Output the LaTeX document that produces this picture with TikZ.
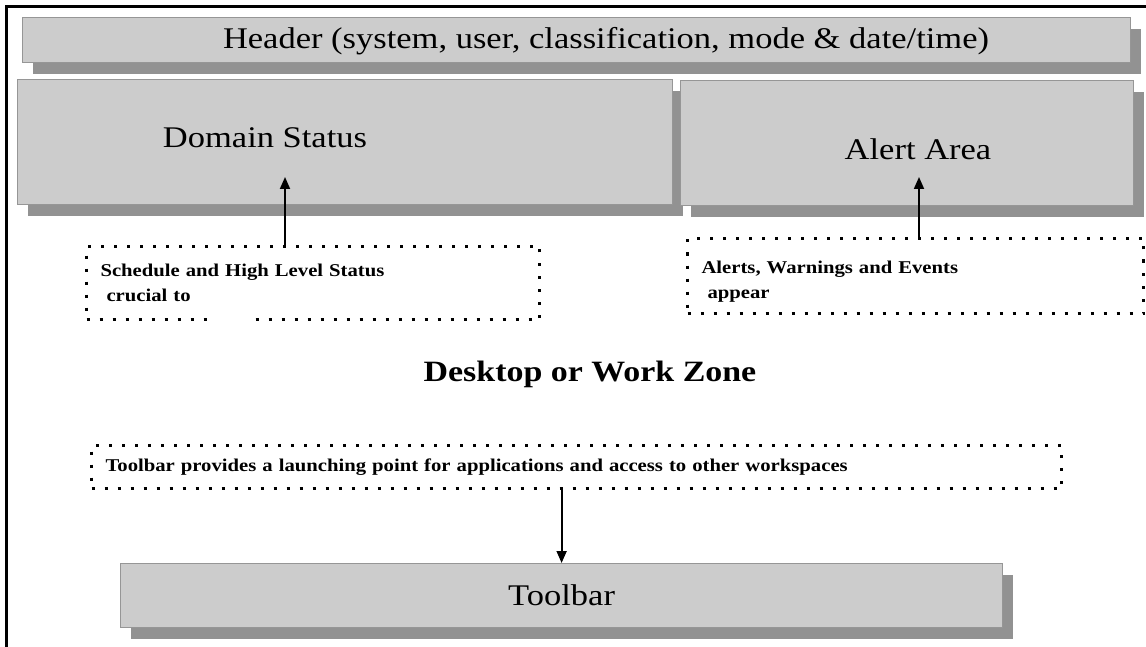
\documentclass[tikz,border=0pt]{standalone}
\usepackage{fontspec}
\setmainfont{Liberation Serif}[FakeStretch=1.15]
\usetikzlibrary{positioning, shadows, arrows.meta}
\definecolor{panelgray}{RGB}{204,204,204}
\definecolor{shadowgray}{RGB}{146,146,146}
\definecolor{edgegray}{RGB}{150,150,150}

\begin{document}
\begin{tikzpicture}[x=1pt, y=-1pt,
panel/.style = {rectangle, draw=edgegray, line width=1.2pt, fill=panelgray, inner sep=0pt, anchor=north west,
  drop shadow={shadow xshift=10pt, shadow yshift=-11pt, fill=shadowgray, opacity=1}},
note/.style = {rectangle, draw=black, line width=3pt, dash pattern=on 3pt off 10pt, anchor=north west,
  align=left, inner ysep=0pt, inner xsep=14pt, font=\fontsize{18}{25}\selectfont\bfseries},
bigtext/.style = {font=\fontsize{30}{36}\selectfont},
link/.style = {line width=1.8pt, -{Triangle[length=12pt, width=10pt]}}]
\useasboundingbox (0,0) rectangle (1146,647);
% frame, left and top only
\draw[line width=3.5pt] (6.5,647) -- (6.5,6.5) -- (1146,6.5);
% panels
\node[panel, minimum width=1108pt, minimum height=45pt] (header) at (22,17) {};
\node[panel, minimum width=655pt, minimum height=125pt] (domain) at (17,79) {};
\node[panel, minimum width=453pt, minimum height=125pt] (alert) at (680,80) {};
\node[panel, minimum width=882pt, minimum height=64pt] (toolbar) at (120,563) {};
\node[bigtext] (headertxt) at (606,41) {Header (system, user, classification, mode \& date/time)};
\node[bigtext] (domaintxt) at (265,138) {Domain Status};
\node[bigtext] (alerttxt) at (918,149) {Alert Area};
\node[bigtext] (tooltxt) at (toolbar.center) {Toolbar};
% dotted notes
\node[note, text width=425pt, minimum height=73pt] (schednote) at (85,245)
  {Schedule and High Level Status\\ \ crucial to};
\draw[white, line width=5pt] (214,318) -- (249,318);
\node[note, text width=428pt, minimum height=75pt] (alertnote) at (686,237)
  {\rule{0pt}{24pt}Alerts, Warnings and Events\\ \ appear};
\node[note, text width=942pt, minimum height=43pt] (toolnote) at (90,444)
  {Toolbar provides a launching point for applications and access to other workspaces};
\node[font=\fontsize{29.5}{34}\selectfont\bfseries] (desk) at (590,374) {Desktop or Work Zone};
% arrows
\coordinate (domtip) at (285,177);
\coordinate (alerttip) at (919,177);
\draw[link] (schednote.north -| domtip) -- (domtip);
\draw[link] (alertnote.north -| alerttip) -- (alerttip);
\draw[link] (toolnote.south -| toolbar.north) -- (toolbar.north);
\end{tikzpicture}
\end{document}
